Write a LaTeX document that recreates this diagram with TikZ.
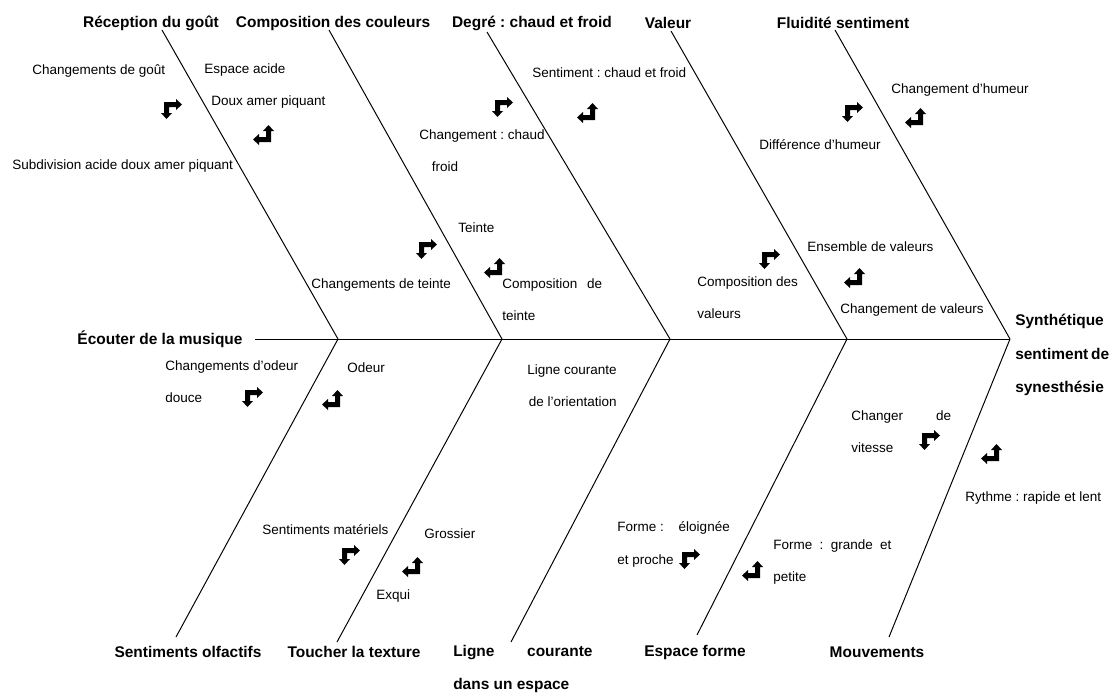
\documentclass[tikz,border=0pt]{standalone}
\usepackage{fontspec}
\setmainfont{Liberation Sans}
\frenchspacing

\begin{document}
\begin{tikzpicture}[x=0.025cm, y=-0.025cm,
  cause/.style={font=\fontsize{11}{23.8}\selectfont\bfseries, inner sep=0pt},
  item/.style={font=\fontsize{9.6}{23.4}\selectfont, inner sep=0pt, anchor=north west, align=left},
  bone/.style={line width=0.7pt},
  rightdown/.pic={\fill (-8,-8) -- (4,-8) -- (4,-11) -- (10,-5.5) -- (4,0) -- (4,-3) -- (-3,-3)
    -- (-3,3) -- (0,3) -- (-5.5,9) -- (-11,3) -- (-8,3) -- cycle;},
  upleft/.pic={\fill (8,8) -- (-4,8) -- (-4,11) -- (-10,5.5) -- (-4,0) -- (-4,3) -- (3,3)
    -- (3,-3) -- (0,-3) -- (5.5,-9) -- (11,-3) -- (8,-3) -- cycle;}
]
\useasboundingbox (0,0) rectangle (1116,693);

% fish bones
\coordinate (j1) at (338,339);
\coordinate (j2) at (502,339);
\coordinate (j3) at (670,339);
\coordinate (j4) at (847,339);
\coordinate (j5) at (1010,339);
\coordinate (s0) at (255,339);
\coordinate (t1) at (162,30);
\coordinate (t2) at (329,30);
\coordinate (t3) at (487,32);
\coordinate (t4) at (671,31);
\coordinate (t5) at (835,30);
\coordinate (b1) at (176,637);
\coordinate (b2) at (337,642);
\coordinate (b3) at (511,642);
\coordinate (b4) at (697,635);
\coordinate (b5) at (889,637);
\draw[bone] (s0) -- (j5);
\foreach \i in {1,...,5}
  \draw[bone] (j\i) -- (t\i) (j\i) -- (b\i);

% causes
\node[cause] (recep) at (151,23) {Réception du goût};
\node[cause] (compo) at (333,23) {Composition des couleurs};
\node[cause] (degre) at (532,23) {Degré : chaud et froid};
\node[cause] (valeur) at (668,23) {Valeur};
\node[cause] (fluid) at (843,23) {Fluidité sentiment};
\node[cause] (ecoute) at (160,339) {Écouter de la musique};
\node[cause, anchor=north west, align=left] (synth) at (1015,314)
  {Synthétique\\\makebox[64pt][s]{sentiment de}\\synesthésie};
\node[cause] (olf) at (188,652) {Sentiments olfactifs};
\node[cause] (touch) at (354,652) {Toucher la texture};
\node[cause, anchor=north west, align=left] (ligne) at (453,645)
  {\makebox[99pt][s]{Ligne courante}\\dans un espace};
\node[cause] (espace) at (695,652) {Espace forme};
\node[cause] (mouv) at (877,652) {Mouvements};

% upper items
\node[item] (goutA) at (32,64) {Changements de goût};
\node[item] (goutB) at (204,63) {Espace acide};
\node[item] (goutC) at (211,95) {Doux amer piquant};
\node[item] (goutD) at (12,159) {Subdivision acide doux amer piquant};
\node[item] (chaudA) at (419,129) {Changement : chaud\\\hspace*{9pt}froid};
\node[item] (chaudB) at (532,67) {Sentiment : chaud et froid};
\node[item] (humA) at (891,83) {Changement d’humeur};
\node[item] (humB) at (759,139) {Différence d’humeur};
\node[item] (teinteA) at (458,222) {Teinte};
\node[item] (teinteB) at (311,278) {Changements de teinte};
\node[item] (teinteC) at (502,278) {\makebox[71pt][s]{Composition de}\\teinte};
\node[item] (valA) at (807,241) {Ensemble de valeurs};
\node[item] (valB) at (697,276) {Composition des\\valeurs};
\node[item] (valC) at (840,303) {Changement de valeurs};

% lower items
\node[item] (odeurA) at (165,360) {Changements d’odeur\\douce};
\node[item] (odeurB) at (347,362) {Odeur};
\node[item, anchor=north east, align=right] (ligneA) at (617,364) {Ligne courante\\de l’orientation};
\node[item] (texA) at (262,524) {Sentiments matériels};
\node[item] (texB) at (424,528) {Grossier};
\node[item] (texC) at (376,589) {Exqui};
\node[item] (formeA) at (617,521) {\makebox[80pt][l]{Forme :\hfill éloignée}\\et proche};
\node[item] (formeB) at (773,539) {\makebox[84pt][s]{Forme : grande et}\\petite};
\node[item] (mouvA) at (851,410) {\makebox[71pt][s]{Changer de}\\vitesse};
\node[item] (mouvB) at (965,491) {Rythme : rapide et lent};

% turn arrows
\foreach \p in {{172,110},{503,108},{853,113},{427,250},{770,260},{253,398},{350,556},{690,560},{930,441}}
  \pic at (\p) {rightdown};
\foreach \p in {{263,134},{587,112},{915,117},{494,267},{854,277},{332,399},{412,566},{752,570},{991,453}}
  \pic at (\p) {upleft};
\end{tikzpicture}
\end{document}
